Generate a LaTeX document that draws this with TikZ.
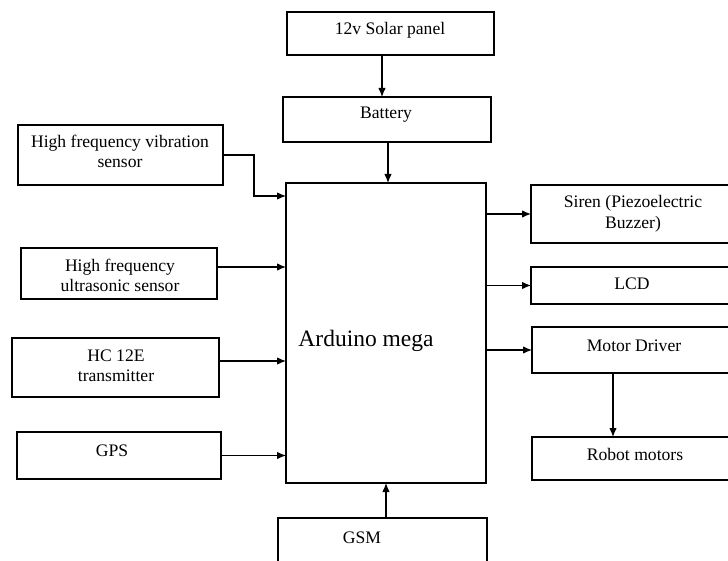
\documentclass[tikz,border=0pt]{standalone}
\usepackage{fontspec}
\setmainfont{Liberation Serif}
\usetikzlibrary{arrows.meta}
\begin{document}
\begin{tikzpicture}[x=1pt,y=-1pt,
  box/.style={draw=black,line width=1.1pt,inner sep=0pt,outer sep=0pt},
  lbl/.style={inner sep=0pt,anchor=base,align=center,font=\fontsize{17.6}{20.5}\selectfont},
  big/.style={inner sep=0pt,anchor=base,font=\fontsize{23.5}{26}\selectfont},
  arr/.style={line width=1.2pt,-{Latex[length=9pt,width=7.5pt]}}]
\useasboundingbox (0,0) rectangle (728,561);
\clip (0,0) rectangle (728,561);
% boxes
\node[box,minimum width=207pt,minimum height=43pt] (solar) at (390.5,33.5) {};
\node[box,minimum width=208pt,minimum height=45pt] (battery) at (387,119.5) {};
\node[box,minimum width=205pt,minimum height=60pt] (vib) at (120.5,155) {};
\node[box,minimum width=196pt,minimum height=51pt] (ultra) at (119,273.5) {};
\node[box,minimum width=207pt,minimum height=59pt] (hc) at (115.5,367.5) {};
\node[box,minimum width=204pt,minimum height=47pt] (gps) at (119,455.5) {};
\node[box,minimum width=200pt,minimum height=300pt] (ard) at (386,333) {};
\node[box,minimum width=209pt,minimum height=58pt] (siren) at (635.5,214) {};
\node[box,minimum width=209pt,minimum height=37pt] (lcd) at (635.5,285.5) {};
\node[box,minimum width=208pt,minimum height=46pt] (motor) at (636,350) {};
\node[box,minimum width=208pt,minimum height=43pt] (robot) at (636,458.5) {};
\node[box,minimum width=209pt,minimum height=57pt] (gsm) at (382.5,546.5) {};
% labels
\node[lbl] (tsolar) at (390,35) {12v Solar panel};
\node[lbl] (tbattery) at (386,119) {Battery};
\node[lbl] (tvib) at (120,168) {High frequency vibration\\sensor};
\node[lbl] (tultra) at (120,291.5) {High frequency\\ultrasonic sensor};
\node[lbl] (thc) at (116,381.5) {HC 12E\\transmitter};
\node[lbl] (tgps) at (112,456) {GPS};
\node[big] (tard) at (366,346) {Arduino mega};
\node[lbl] (tsiren) at (633,228.5) {Siren (Piezoelectric\\Buzzer)};
\node[lbl] (tlcd) at (632,290) {LCD};
\node[lbl] (tmotor) at (634,351) {Motor Driver};
\node[lbl] (trobot) at (635,460) {Robot motors};
\node[lbl] (tgsm) at (362,543) {GSM};
% connectors
\draw[arr] (382,0 |- solar.south) -- (382,0 |- battery.north);
\draw[arr] (388,0 |- battery.south) -- (388,0 |- ard.north);
\coordinate (vbend) at (254,0 |- vib.east);
\draw[arr] (vib.east) -- (vbend) |- (ard.west |- 0,196);
\draw[arr] (ultra.east |- 0,267) -- (ard.west |- 0,267);
\draw[arr] (hc.east |- 0,361) -- (ard.west |- 0,361);
\draw[arr] (gps.east) -- (ard.west |- gps.east);
\draw[arr] (ard.east |- siren.west) -- (siren.west);
\draw[arr] (ard.east |- lcd.west) -- (lcd.west);
\draw[arr] (ard.east |- motor.west) -- (motor.west);
\draw[arr] (613,0 |- motor.south) -- (613,0 |- robot.north);
\draw[arr] (386,0 |- gsm.north) -- (386,0 |- ard.south);
\end{tikzpicture}
\end{document}
